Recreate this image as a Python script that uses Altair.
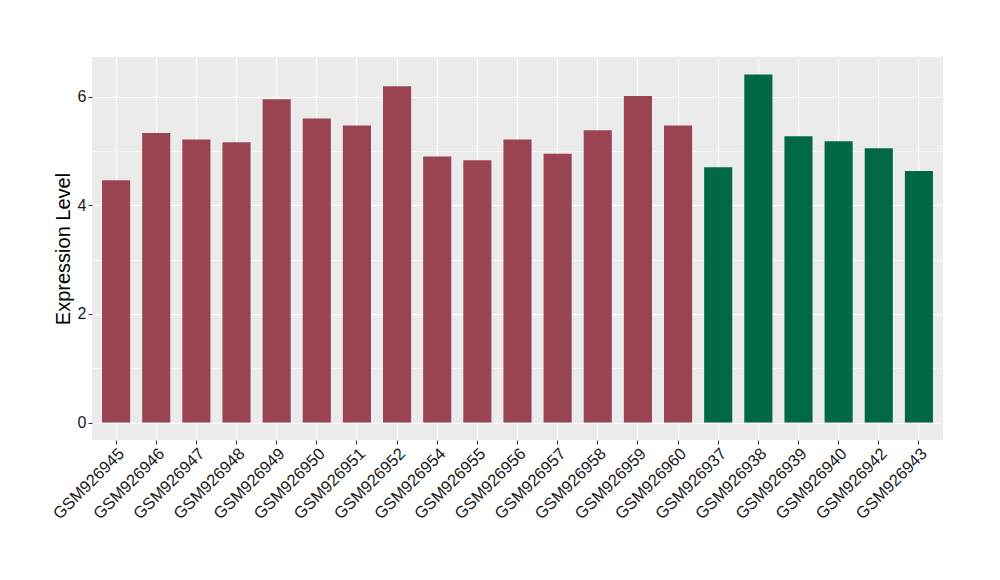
import altair as alt
import pandas as pd

samples = ["GSM926945", "GSM926946", "GSM926947", "GSM926948", "GSM926949",
           "GSM926950", "GSM926951", "GSM926952", "GSM926954", "GSM926955",
           "GSM926956", "GSM926957", "GSM926958", "GSM926959", "GSM926960",
           "GSM926937", "GSM926938", "GSM926939", "GSM926940", "GSM926942",
           "GSM926943"]
values = [4.46, 5.33, 5.21, 5.16, 5.95, 5.60, 5.47, 6.19, 4.90, 4.83,
          5.21, 4.95, 5.38, 6.01, 5.47, 4.70, 6.41, 5.27, 5.18, 5.05, 4.63]
groups = ["Group 1"] * 15 + ["Group 2"] * 6
group_names = ["Group 1", "Group 2"]
group_colors = ["#9A4352", "#006845"]
y_ticks = [0, 1, 2, 3, 4, 5, 6]

df = pd.DataFrame({"sample": samples, "value": values, "group": groups})

FONT = "Liberation Sans"

chart = alt.Chart(df).mark_bar().encode(
    x=alt.X("sample:N", sort=samples, title=None,
            scale=alt.Scale(paddingInner=0.3, paddingOuter=0.25),
            axis=alt.Axis(bandPosition=0.5, labelAngle=-45, labelAlign="right",
                          labelBaseline="top", labelFontSize=16.5, labelFont=FONT,
                          labelColor="#1A1A1A", labelPadding=1, tickSize=4,
                          tickColor="#333333", tickWidth=1.1, domain=False,
                          grid=True, gridColor="white", gridWidth=1.2)),
    y=alt.Y("value:Q", title="Expression Level",
            scale=alt.Scale(domain=[-0.32, 6.73], nice=False, zero=False),
            axis=alt.Axis(values=y_ticks,
                          labelExpr="datum.value % 2 == 1 ? '' : datum.label",
                          labelFontSize=16, labelFont=FONT, labelColor="#1A1A1A",
                          labelPadding=2, tickSize=4, tickWidth=1.1,
                          tickColor={"condition": {"test": "datum.value % 2 == 1", "value": "transparent"}, "value": "#333333"},
                          domain=False, grid=True, gridColor="white",
                          gridWidth={"condition": {"test": "datum.value % 2 == 1", "value": 0.6}, "value": 1.2},
                          titleFontSize=20, titleFont=FONT, titleFontWeight="normal",
                          titleColor="#000000", titlePadding=4)),
    y2=alt.datum(0),
    color=alt.Color("group:N", scale=alt.Scale(domain=group_names, range=group_colors),
                    legend=None),
).properties(
    width=851, height=383,
    autosize=alt.AutoSizeParams(type="none"),
    padding={"left": 84, "top": 49, "right": 49, "bottom": 132},
).configure_view(fill="#EBEBEB", stroke=None)

chart.save("out.html", embed_options={"renderer": "svg", "actions": False})
